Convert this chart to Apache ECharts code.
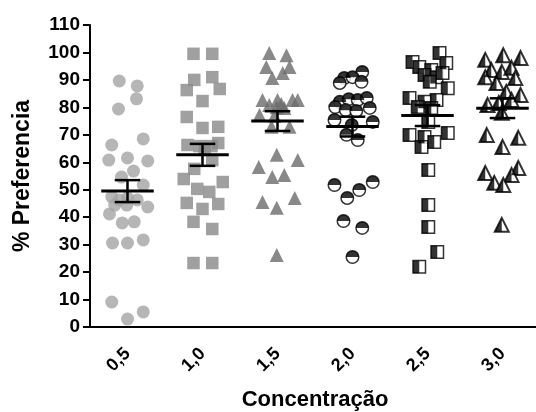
<!DOCTYPE html>
<html>
<head>
<meta charset="utf-8">
<script src="https://cdn.jsdelivr.net/npm/echarts@6/dist/echarts.min.js"></script>
<style>
  html, body { margin: 0; padding: 0; background: #fff; }
  #chart { width: 536px; height: 412px; }
</style>
</head>
<body>
<div id="chart"></div>
<script>
// categorias (concentração)
const categories = ['0,5', '1,0', '1,5', '2,0', '2,5', '3,0'];
const yTicks = [0, 10, 20, 30, 40, 50, 60, 70, 80, 90, 100, 110];

// pontos: [deslocamento horizontal (fração da categoria), % preferência]
const pref05 = [
  [-0.2, 30.6], [0, 30.6], [0.21, 31.7], [-0.21, 9.1], [0, 2.9], [0.21, 5.5],
  [-0.11, 89.6], [0.13, 87.8], [0.12, 83.1], [-0.12, 79.4], [0.21, 68.5], [-0.21, 66.3],
  [-0.25, 60.8], [0, 61.6], [0.27, 60.5], [0.08, 56.8], [-0.08, 54.6], [0.21, 51.7],
  [-0.21, 47.4], [-0.11, 46.3], [0, 47], [0.13, 46.3], [-0.17, 44.4], [-0.01, 44.4],
  [0.27, 43.7], [-0.24, 41.2], [-0.07, 37.9], [0.09, 38.3],
];
const pref10 = [
  [-0.12, 99.5], [0.13, 99.5], [-0.11, 90], [0.13, 91], [-0.21, 86.3], [0.23, 86.7],
  [0, 82.3], [-0.21, 76.5], [0, 72.5], [0.21, 72.9], [-0.2, 66.3], [-0.04, 65.9],
  [0.12, 65.9], [0.21, 67], [0.03, 64.5], [0.13, 60.8], [-0.11, 57.6], [-0.25, 53.9],
  [0.27, 52.8], [-0.07, 50.3], [0.09, 49.2], [-0.21, 45.2], [0, 43], [0.21, 44.8],
  [-0.12, 38.3], [0.13, 35.7], [-0.12, 23.3], [0.13, 23.3],
];
const pref15 = [
  [-0.11, 99.8], [-0.15, 94.7], [-0.07, 90.7], [-0.2, 82.7], [-0.11, 80.9], [-0.01, 80],
  [-0.24, 77.2], [-0.08, 72.9], [-0.01, 62.7], [-0.25, 58.3], [-0.07, 54.6], [-0.2, 45.5],
  [-0.01, 43.4], [-0.01, 26.2], [0.12, 99], [0.16, 94.7], [0.07, 92.5], [0.2, 82.7],
  [0.27, 82.7], [0.09, 79.8], [0.16, 72.9], [0.27, 60.8], [0.09, 55.4], [0.23, 47],
  [0, 82.7], [0.05, 81.2], [-0.04, 76.9],
];
const pref20 = [
  [-0.11, 90.7], [0.13, 92.9], [0, 91], [-0.17, 88.9], [0.12, 89.3], [-0.17, 82],
  [-0.05, 83], [0.07, 82.7], [0.19, 83.4], [-0.23, 80.1], [-0.09, 79], [0.05, 78.7],
  [0.23, 79.8], [-0.24, 75.4], [0.27, 74.7], [-0.01, 73.6], [0.07, 68.1], [-0.08, 70],
  [-0.24, 51.7], [-0.07, 47], [0.09, 49.9], [0.27, 52.8], [-0.12, 38.6], [0.13, 36.1],
  [0, 25.5],
];
const pref25 = [
  [0.16, 99.8], [-0.2, 96.5], [0.25, 96.2], [-0.11, 94.7], [0.05, 93.6], [-0.04, 91.8],
  [0.12, 91], [0.2, 92.5], [0.03, 89.3], [0.27, 87], [-0.24, 83.4], [0.12, 82.7],
  [-0.04, 82], [-0.13, 80.1], [0.05, 79.8], [0.01, 74.7], [-0.24, 69.9], [0.27, 70.7],
  [-0.04, 69.2], [-0.08, 65.6], [0.09, 67.4], [0.01, 57.2], [0.01, 44.4], [0.01, 36.4],
  [0.13, 27.3], [-0.11, 21.9],
];
const pref30 = [
  [0.01, 99], [-0.23, 97.3], [0.24, 98], [-0.15, 93.6], [-0.01, 92.9], [0.12, 94.4],
  [-0.23, 91], [0.17, 90.7], [-0.08, 88.9], [0.05, 85.6], [0.24, 84.5], [-0.2, 80.9],
  [-0.05, 81.6], [0.12, 82.7], [-0.01, 78], [-0.21, 69.9], [0.21, 68.9], [0, 65.6],
  [-0.23, 56.1], [0.21, 57.9], [0.12, 55.4], [-0.11, 52.5], [0.01, 51.7], [-0.01, 37.2],
];

// média e EPM de cada grupo
const means = [49.5, 62.7, 75, 73, 77, 79.7];
const sems = [4, 4, 3.6, 3.6, 3.8, 3.6];

const font = 'Liberation Sans, Arial, sans-serif';
const myChart = echarts.init(document.getElementById('chart'));

function place(points, i) {
  return points.map(p => [i + p[0], p[1]]);
}

function scatter(name, points, i, symbol, size, style, offset) {
  return {
    name,
    type: 'scatter',
    xAxisIndex: 1,
    symbol,
    symbolSize: size,
    symbolOffset: offset || [0, 0],
    itemStyle: style,
    emphasis: { disabled: true },
    data: place(points, i),
  };
}

const black = { color: '#000' };
const hollow = { color: '#fff', borderColor: '#000', borderWidth: 1.5 };

const option = {
  animation: false,
  grid: { left: 90, top: 25, width: 450, height: 302, outerBoundsMode: 'none', containLabel: false },
  xAxis: [
    {
      type: 'category',
      data: categories,
      name: 'Concentração',
      nameLocation: 'middle',
      nameGap: 62,
      nameTextStyle: { fontFamily: font, fontWeight: 'bold', fontSize: 22, color: '#000' },
      axisLine: { lineStyle: { color: '#000', width: 2 } },
      axisTick: { alignWithLabel: true, length: 8, lineStyle: { color: '#000', width: 2 } },
      axisLabel: {
        rotate: 45,
        margin: 24,
        fontFamily: font,
        fontWeight: 'bold',
        fontSize: 18,
        color: '#000',
      },
      splitLine: { show: false },
    },
    {
      type: 'value',
      min: -0.5,
      max: 5.5,
      show: false,
      axisLine: { onZero: false },
    },
  ],
  yAxis: {
    type: 'value',
    position: 'left',
    min: 0,
    max: 110,
    interval: 10,
    name: '% Preferencia',
    nameLocation: 'middle',
    nameGap: 56,
    nameTextStyle: { fontFamily: font, fontWeight: 'bold', fontSize: 23, color: '#000' },
    axisLine: { show: true, onZero: false, lineStyle: { color: '#000', width: 2 } },
    axisTick: { show: true, length: 7, lineStyle: { color: '#000', width: 2 } },
    axisLabel: {
      margin: 10,
      fontFamily: font,
      fontWeight: 'bold',
      fontSize: 19,
      color: '#000',
      formatter: v => (yTicks.includes(v) ? String(v) : ''),
    },
    splitLine: { show: false },
  },
  series: [
    scatter('0,5', pref05, 0, 'circle', 13, { color: '#a4a4a4' }),
    scatter('1,0', pref10, 1, 'rect', 12.5, { color: '#888888' }),
    scatter('1,5', pref15, 2, 'triangle', 14, { color: '#6c6c6c' }),
    // meio círculo (topo preto)
    scatter('2,0', pref20, 3, 'circle', 12.5, hollow),
    scatter('2,0 topo', pref20, 3, 'path://M0,10A10,10 0 0 1 20,10Z', [12.5, 6.25], black, [0, -3.1]),
    // quadrado meio preenchido (esquerda preta)
    scatter('2,5', pref25, 4, 'rect', 12.5, hollow),
    scatter('2,5 esq', pref25, 4, 'rect', [6.25, 12.5], black, [-3.1, 0]),
    // triângulo meio preenchido (esquerda preta)
    scatter('3,0', pref30, 5, 'triangle', 14, { color: '#fff', borderColor: '#000', borderWidth: 2 }),
    scatter('3,0 esq', pref30, 5, 'path://M0,20L10,0L10,20Z', [7, 14], black, [-3.5, 0]),
    {
      // média ± EPM
      name: 'media',
      type: 'custom',
      xAxisIndex: 1,
      z: 10,
      renderItem(params, api) {
        const x = api.value(0);
        const m = api.value(1);
        const s = api.value(2);
        const c = api.coord([x, m]);
        const top = api.coord([x, m + s]);
        const bot = api.coord([x, m - s]);
        const half = api.size([0.35, 0])[0];
        const cap = api.size([0.17, 0])[0];
        const stroke = { stroke: '#000', lineWidth: 2.5 };
        return {
          type: 'group',
          children: [
            { type: 'line', shape: { x1: c[0] - half, y1: c[1], x2: c[0] + half, y2: c[1] }, style: { stroke: '#000', lineWidth: 3 } },
            { type: 'line', shape: { x1: c[0], y1: top[1], x2: c[0], y2: bot[1] }, style: stroke },
            { type: 'line', shape: { x1: c[0] - cap, y1: top[1], x2: c[0] + cap, y2: top[1] }, style: stroke },
            { type: 'line', shape: { x1: c[0] - cap, y1: bot[1], x2: c[0] + cap, y2: bot[1] }, style: stroke },
          ],
        };
      },
      data: means.map((m, i) => [i, m, sems[i]]),
    },
  ],
};

myChart.setOption(option);
</script>
</body>
</html>
